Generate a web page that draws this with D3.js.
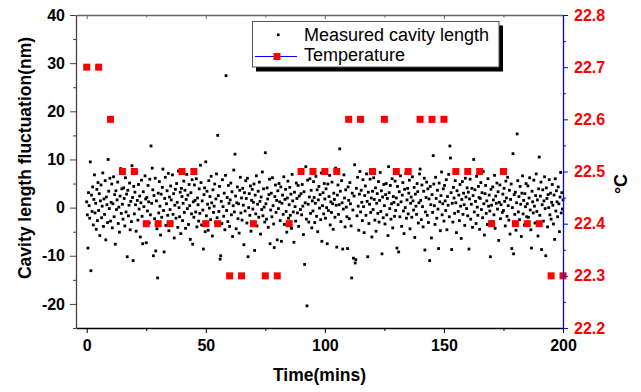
<!DOCTYPE html>
<html>
<head>
<meta charset="utf-8">
<script src="https://cdn.jsdelivr.net/npm/d3@7"></script>
<style>
  body { margin: 0; background: #fff; }
  svg text { font-family: "Liberation Sans", Arial, sans-serif; }
</style>
</head>
<body>
<div id="chart"></div>
<script>
// tick labels
const timeTicks = [0, 50, 100, 150, 200];
const timeMinor = [25, 75, 125, 175];
const lengthTicks = [-20, -10, 0, 10, 20, 30, 40];
const lengthMinor = [-25, -15, -5, 5, 15, 25, 35];
const tempTicks = [22.2, 22.3, 22.4, 22.5, 22.6, 22.7, 22.8];
const tempMinor = [22.25, 22.35, 22.45, 22.55, 22.65, 22.75];

// temperature, one reading every 5 min (deg C)
const tempStep = 5;
const temperature = [
  22.7, 22.7, 22.6, 22.5, 22.5, 22.4, 22.4, 22.4, 22.5, 22.5,
  22.4, 22.4, 22.3, 22.3, 22.4, 22.3, 22.3, 22.4, 22.5, 22.5,
  22.5, 22.5, 22.6, 22.6, 22.5, 22.6, 22.5, 22.5, 22.6, 22.6,
  22.6, 22.5, 22.5, 22.5, 22.4, 22.5, 22.4, 22.4, 22.4, 22.3,
  22.3
];

// measured cavity length fluctuation (nm), one reading every 0.25 min
const lengthStep = 0.25;
const cavityLength = [
  1.2, -1.5, -8.4, 3.1, 0.4, -2.2, 9.5, -13.1, 2.6, -0.8, 4.3, -3.6, 1.7, 6.8, -1.1, 0.9, -4.5, 3.8, -2.7, 5.2,
  -0.6, 2.9, -5.8, 1.4, 4.7, -2.1, 0.3, 7.2, -3.9, 1.8, -1.4, 5.6, -6.7, 2.2, 0.6, -3.1, 10.0, 3.4, -0.2, 6.1,
  -2.8, 1.1, 4.9, -4.2, 0.8, 6.4, -1.9, 2.7, -7.6, 3.5, -0.4, 1.6, 5.3, -3.3, 0.1, -5.1, 2.4, 8.1, -1.2, 3.9,
  0.7, -2.4, 4.1, 1.9, -3.8, 6.2, -0.9, 2.8, -10.2, 3.6, -1.7, 0.5, 5.1, -4.6, 1.3, -2.9, 8.7, 2.1, -11.0, 4.4,
  -1.3, 3.2, 0.6, -4.9, 7.3, 1.5, -2.6, 4.8, -0.3, 2.4, -6.1, 1.0, 5.7, -1.8, -7.5, 3.3, 0.2, -3.4, 6.6, 1.8,
  -7.3, 2.1, -0.7, 4.6, 1.2, -3.2, 5.9, -1.5, 12.8, 0.9, 8.2, 3.7, -10.0, 2.5, -2.3, 6.1, -9.0, 1.4, -4.4, -14.6,
  3.0, -1.1, 5.4, 0.3, -5.7, 2.8, -2.0, 4.2, 8.0, -0.6, -9.2, 1.9, 6.3, -3.7, 0.8, 3.5, -1.6, 7.1, -4.8, 2.2,
  -0.4, 4.5, 1.6, -3.0, 6.8, -1.4, 2.9, -6.3, 0.5, 3.8, -2.2, 5.0, 1.1, -4.1, 7.6, 0.0, -1.9, 3.2, -5.4, 4.0,
  2.3, -2.7, 0.9, 5.5, -1.0, 3.6, -4.3, 1.7, 6.9, -0.2, 2.6, -3.5, 4.8, 0.4, -6.6, 3.1, -1.3, 5.8, -7.6, 1.2,
  -2.0, 4.7, 1.5, -0.9, 6.0, -4.0, 2.0, 0.6, -2.8, 3.9, -1.2, 8.8, 5.2, -3.6, 1.4, -0.5, -8.6, 2.7, 4.1, -5.0,
  9.5, -1.7, 3.4, 0.7, -4.7, 5.6, -0.1, 2.3, -2.5, 6.5, 1.0, -5.9, 3.7, -1.0, 0.3, 4.9, -3.1, 1.8, 7.0, -2.1,
  15.0, 2.5, -0.8, 4.4, -10.7, -10.0, 1.3, -3.3, 5.8, 0.2, -1.8, 3.0, -4.6, 6.7, 27.4, -0.6, 2.1, -2.9, 4.6, 0.9,
  -3.9, 1.6, 5.1, -1.5, 3.3, -6.0, 0.4, 7.8, -0.9, 11.1, 2.4, -4.4, 1.0, 4.3, -2.3, 0.8, -5.3, 3.6, 6.3, -1.1,
  2.0, -2.6, 4.0, 0.5, -7.7, 3.1, -0.7, 5.6, 1.9, -3.2, 6.1, -10.2, 0.0, 2.9, -1.6, 4.5, -4.9, 1.5, 3.8, -0.3,
  1.1, 4.9, -8.9, 2.6, -1.3, 6.6, -3.8, 0.7, 3.4, -2.0, 5.3, 1.3, -5.5, 2.2, -0.4, 7.4, -1.7, 3.9, 0.1, -3.0,
  11.4, 0.8, -2.4, 4.1, 1.8, -4.1, 2.7, 5.9, -7.5, -0.5, 3.0, -1.9, 6.2, 0.4, -3.4, -8.3, 2.3, 4.7, -1.0, 1.5,
  -6.7, 3.5, -0.2, 5.0, 1.2, -2.7, 4.3, -7.0, 0.9, 2.6, -1.4, 6.4, -3.5, 1.7, 3.8, -0.8, -5.1, 2.0, 5.5, -2.2,
  0.6, 4.2, -1.6, 2.8, -4.3, 6.9, 1.4, -0.9, -7.2, 3.2, 0.2, -2.8, 5.1, 1.9, -1.1, 4.6, -3.9, 2.4, 7.7, -0.4,
  2.9, -1.5, 4.8, 0.3, -5.6, 3.3, -11.8, 1.0, 8.5, -2.4, -20.4, 5.7, 0.7, -3.0, 2.2, 6.0, -1.2, 3.6, -4.2, 1.4,
  -0.7, 5.4, 2.1, -3.1, 0.9, 6.5, -1.8, 3.7, -5.0, 1.6, 4.4, -0.1, 2.7, -2.5, 7.2, -7.0, 0.4, 3.1, -1.3, 5.0,
  1.8, -2.2, 3.9, 0.0, -7.5, 4.9, -0.6, 2.3, 6.7, -3.6, 1.2, -1.0, 5.3, 0.8, -4.5, 3.0, 1.7, -2.0, 8.2, 0.5,
  -8.2, 2.6, 4.7, -1.4, 0.6, 12.2, 3.4, -2.9, 5.6, 1.0, -8.6, -0.3, 6.8, 2.0, -4.0, 3.7, 0.1, -1.9, -8.5, 4.3,
  1.5, -2.3, 5.2, 0.8, -3.8, -14.6, 3.0, -0.5, -10.5, 2.4, 8.9, -11.5, -10.8, 4.0, -1.7, 6.3, 0.3, -4.7, 2.8, 7.5,
  -0.9, 3.6, 1.1, -2.7, 5.8, 0.2, -5.2, 2.5, 4.5, -1.6, 7.0, 1.3, -10.2, 3.2, -3.3, 0.7, 5.9, -1.0, 2.0, -6.1,
  3.4, -0.4, 6.2, 1.7, -2.6, 4.1, -4.9, 0.9, 2.9, -1.2, 5.4, -3.0, 1.5, 7.3, -0.8, 3.5, -9.6, 2.2, -2.1, 4.8,
  0.4, -3.4, 2.7, 5.0, -1.5, 1.9, -5.8, 8.5, 3.1, -0.2, 4.6, -2.4, 0.8, 6.0, -4.2, 2.3, 1.1, -1.8, 5.5, -0.6,
  2.0, -8.4, 4.4, 0.6, -9.2, 3.3, -1.9, 6.6, 1.2, -3.9, 2.6, 5.2, -0.7, -5.4, 3.8, 0.0, 7.1, -2.2, 1.6, 4.0,
  -1.3, 3.0, 5.7, -4.4, 0.9, 2.2, -2.0, 6.4, 1.4, -0.5, 4.2, -6.2, 2.8, 0.3, -1.4, 5.0, 3.3, -3.2, 1.0, 7.0,
  8.0, 1.5, -2.5, 4.7, 0.2, -4.0, 3.4, 6.1, -8.8, -0.9, 2.1, 5.3, -1.6, 3.9, -3.1, 1.8, -11.0, 4.4, 0.6, -6.3,
  2.7, -1.0, 10.8, 4.9, 0.4, -3.5, 6.3, 1.9, -2.2, 3.6, -0.3, -8.5, 5.1, 1.2, -4.8, 2.5, 7.4, -1.5, 0.8, 3.9,
  -2.8, 4.6, 1.4, -0.6, 5.8, -4.6, 2.3, 0.5, 6.9, -1.9, 12.8, 10.3, 3.1, -8.7, 0.9, -3.0, 4.2, 2.0, -1.2, 5.6,
  1.0, -5.2, 3.5, 7.2, -0.8, 2.6, -2.7, 4.8, 0.3, -6.4, 1.7, 5.4, -1.4, 3.0, 0.6, -3.7, 6.1, 2.2, -0.2, 4.1,
  -1.7, 3.2, -8.6, 1.8, 5.9, -2.4, 0.7, 4.0, -4.1, 2.5, 10.0, -0.9, 3.7, 1.3, -3.3, 6.5, 0.1, -1.6, 4.4, 2.1,
  -4.5, 1.9, 5.2, -0.4, 3.1, -2.1, 7.5, 0.8, -5.7, 2.9, 4.6, -1.2, 1.4, -3.5, 6.0, 0.3, 2.6, -0.7, -10.2, 3.8,
  0.5, -2.9, 4.3, 1.6, -1.5, 6.7, -4.3, 2.4, 0.9, 5.1, -0.3, 3.3, -6.8, 1.1, 4.7, -2.3, 0.6, 7.9, -1.0, 2.8,
  -0.6, 4.0, 1.3, -3.8, 5.5, 2.0, -1.8, 6.3, 0.4, -2.6, 3.6, -5.5, 1.7, 4.9, -8.5, 0.0, 11.2, -9.6, 2.7, -1.4,
  3.2, -4.7, 1.0, 15.3, 5.6, -0.9, 2.3, -2.5, 4.4, 0.7, -6.0, 3.0, 6.6, -1.3, 1.5, -3.6, 2.9, 0.2, 5.0, -1.9,
  0.8, 4.5, -2.0, 2.0, 6.2, -0.5, -4.6, -8.4, 3.4, 1.2, -1.1, 5.7, 0.3, -3.2, 2.5, 7.0, -0.8, 1.6, -5.9, 3.9,
  10.5, -1.6, 2.4, 5.3, -8.7, 0.6, 3.7, -2.8, 1.4, 6.4, -0.2, -10.0, 4.1, 1.9, -4.0, 2.7, 0.0, 5.8, -1.5, 3.0,
  -2.4, 1.1, 4.8, 0.5, -3.4, 2.6, -6.6, 6.0, -0.7, 3.5, 1.2, -1.9, 4.3, 0.8, -5.0, 2.2, 7.3, -1.1, 3.1, -0.3,
  1.6
];

const width = 641, height = 392;
const plotLeft = 76, plotRight = 563, plotTop = 15, plotBottom = 328;

const x = d3.scaleLinear().domain([-4.5, 200]).range([plotLeft, plotRight]);
const yL = d3.scaleLinear().domain([-25, 40]).range([plotBottom, plotTop]);
const yR = d3.scaleLinear().domain([22.2, 22.8]).range([plotBottom, plotTop]);

// plain hyphen minus like the original plot
const plain = d => String(d);

const svg = d3.select('#chart').append('svg')
  .attr('width', width)
  .attr('height', height);

// cavity length dots
svg.append('g')
  .selectAll('rect')
  .data(cavityLength)
  .enter()
  .append('rect')
  .attr('x', (d, i) => x(i * lengthStep) - 1.4)
  .attr('y', d => yL(d) - 1.4)
  .attr('width', 2.8)
  .attr('height', 2.8)
  .attr('fill', '#000');

// temperature squares
svg.append('g')
  .selectAll('rect')
  .data(temperature)
  .enter()
  .append('rect')
  .attr('x', (d, i) => x(i * tempStep) - 3.5)
  .attr('y', d => yR(d) - 3.5)
  .attr('width', 7)
  .attr('height', 7)
  .attr('fill', '#ff0000');

function styleAxis(g, lineColor, textColor, size) {
  g.select('.domain').attr('stroke', lineColor).attr('stroke-width', 1.3);
  g.selectAll('.tick line').attr('stroke', lineColor).attr('stroke-width', 1);
  g.selectAll('.tick text')
    .attr('fill', textColor)
    .attr('font-size', size)
    .attr('font-weight', 'bold');
}

// top frame (inward ticks, no labels)
svg.append('g').attr('transform', `translate(0,${plotTop})`)
  .call(d3.axisTop(x).tickValues(timeTicks).tickSize(-4).tickSizeOuter(0).tickFormat(''))
  .call(g => styleAxis(g, '#666', '#000', 16));
svg.append('g').attr('transform', `translate(0,${plotTop})`)
  .call(d3.axisTop(x).tickValues(timeMinor).tickSize(-2.5).tickSizeOuter(0).tickFormat(''))
  .call(g => g.select('.domain').remove())
  .call(g => g.selectAll('.tick line').attr('stroke', '#666'));

// bottom axis
svg.append('g').attr('transform', `translate(0,${plotBottom})`)
  .call(d3.axisBottom(x).tickValues(timeMinor).tickSize(3).tickSizeOuter(0).tickFormat(''))
  .call(g => g.select('.domain').remove())
  .call(g => g.selectAll('.tick line').attr('stroke', '#000'));
svg.append('g').attr('transform', `translate(0,${plotBottom})`)
  .call(d3.axisBottom(x).tickValues(timeTicks).tickSize(5).tickSizeOuter(0).tickPadding(7)
    .tickFormat(plain))
  .call(g => styleAxis(g, '#000', '#000', 16));

// left axis
svg.append('g').attr('transform', `translate(${plotLeft},0)`)
  .call(d3.axisLeft(yL).tickValues(lengthMinor).tickSize(3).tickSizeOuter(0).tickFormat(''))
  .call(g => g.select('.domain').remove())
  .call(g => g.selectAll('.tick line').attr('stroke', '#444'));
svg.append('g').attr('transform', `translate(${plotLeft},0)`)
  .call(d3.axisLeft(yL).tickValues(lengthTicks).tickSize(6).tickSizeOuter(0).tickPadding(5)
    .tickFormat(plain))
  .call(g => styleAxis(g, '#444', '#000', 16));

// right axis (temperature)
svg.append('g').attr('transform', `translate(${plotRight},0)`)
  .call(d3.axisRight(yR).tickValues(tempMinor).tickSize(3).tickSizeOuter(0).tickFormat(''))
  .call(g => g.select('.domain').remove())
  .call(g => g.selectAll('.tick line').attr('stroke', '#0000ff'));
svg.append('g').attr('transform', `translate(${plotRight},0)`)
  .call(d3.axisRight(yR).tickValues(tempTicks).tickSize(5).tickSizeOuter(0).tickPadding(6)
    .tickFormat(d => d.toFixed(1)))
  .call(g => styleAxis(g, '#0000ff', '#ff0000', 16));

// axis titles
svg.append('text')
  .attr('x', (plotLeft + plotRight) / 2)
  .attr('y', 381)
  .attr('text-anchor', 'middle')
  .attr('font-size', 17.5)
  .attr('font-weight', 'bold')
  .text('Time(mins)');

svg.append('text')
  .attr('transform', 'translate(31,158) rotate(-90)')
  .attr('text-anchor', 'middle')
  .attr('font-size', 17.5)
  .attr('font-weight', 'bold')
  .text('Cavity length fluctuation(nm)');

svg.append('text')
  .attr('transform', 'translate(627,184) rotate(-90)')
  .attr('text-anchor', 'middle')
  .attr('font-size', 18)
  .attr('font-weight', 'bold')
  .text('°C');

// legend
const legend = svg.append('g');
legend.append('rect')
  .attr('x', 256).attr('y', 25.5)
  .attr('width', 247).attr('height', 46)
  .attr('fill', '#000');
legend.append('rect')
  .attr('x', 252.5).attr('y', 21.5)
  .attr('width', 246.5).attr('height', 45.5)
  .attr('fill', '#fff')
  .attr('stroke', '#555')
  .attr('stroke-width', 1);
legend.append('rect')
  .attr('x', 277).attr('y', 33.5)
  .attr('width', 2.6).attr('height', 2.6)
  .attr('fill', '#000');
legend.append('text')
  .attr('x', 304).attr('y', 40.5)
  .attr('font-size', 18)
  .text('Measured cavity length');
legend.append('line')
  .attr('x1', 255).attr('x2', 297)
  .attr('y1', 56.5).attr('y2', 56.5)
  .attr('stroke', '#0000ff')
  .attr('stroke-width', 1);
legend.append('rect')
  .attr('x', 273.5).attr('y', 53)
  .attr('width', 7).attr('height', 7)
  .attr('fill', '#ff0000');
legend.append('text')
  .attr('x', 304).attr('y', 61)
  .attr('font-size', 18)
  .text('Temperature');
</script>
</body>
</html>
